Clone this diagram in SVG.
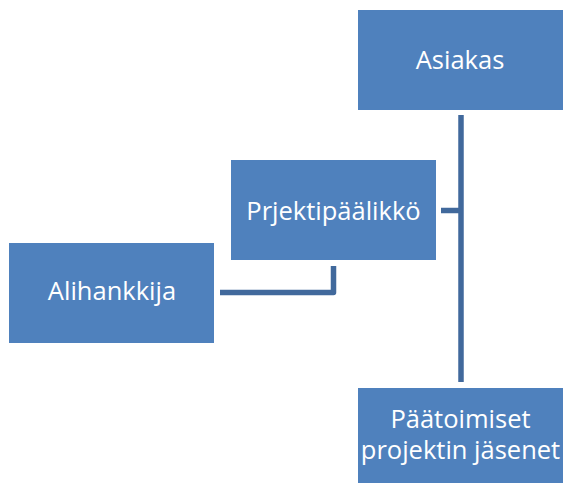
<svg xmlns="http://www.w3.org/2000/svg" width="563" height="483" viewBox="0 0 563 483">
  <style>
    .box { fill: #4F81BD; }
    .label { fill: #FFFFFF; font-family: "Open Sans", "Liberation Sans", sans-serif; font-size: 25.5px; text-anchor: middle; }
    .conn { fill: none; stroke: #41699C; stroke-width: 5.5; stroke-linejoin: round; }
  </style>
  <rect width="563" height="483" fill="#FFFFFF"/>
  <g id="connectors">
    <line class="conn" x1="461" y1="115" x2="461" y2="382"/>
    <line class="conn" x1="441" y1="210.5" x2="461" y2="210.5"/>
    <polyline class="conn" points="220,292.5 333.5,292.5 333.5,266"/>
  </g>
  <g id="asiakas">
    <rect class="box" x="358" y="10" width="205" height="100"/>
    <text class="label" x="460" y="68.5">Asiakas</text>
  </g>
  <g id="projektipaallikko">
    <rect class="box" x="231" y="160" width="205" height="100"/>
    <text class="label" x="333.5" y="219.5">Prjektipäälikkö</text>
  </g>
  <g id="alihankkija">
    <rect class="box" x="9" y="243" width="205" height="100"/>
    <text class="label" x="112" y="299.5">Alihankkija</text>
  </g>
  <g id="paatoimiset">
    <rect class="box" x="358" y="388" width="205" height="95"/>
    <text class="label" x="460.5" y="428">Päätoimiset</text>
    <text class="label" x="460.5" y="459">projektin jäsenet</text>
  </g>
</svg>
